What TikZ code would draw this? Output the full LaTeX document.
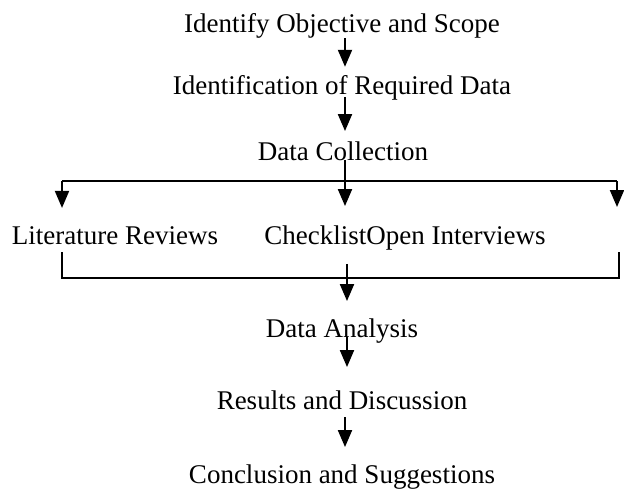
\documentclass[tikz,border=0pt]{standalone}
\usepackage{fontspec}
\setmainfont{Liberation Serif}
\usetikzlibrary{arrows.meta,calc}
\begin{document}
\begin{tikzpicture}[x=1pt,y=-1pt,
  lbl/.style={anchor=base,inner sep=0pt,font=\fontsize{27}{32}\selectfont},
  conn/.style={line width=2pt,draw=black},
  arr/.style={conn,-{Triangle[width=14pt,length=17pt]}}]
\path[fill=white,use as bounding box] (0,0) rectangle (624,488);
\node[lbl] (t1) at (342,32) {Identify Objective and Scope};
\node[lbl] (t2) at (342,94) {Identification of Required Data};
\node[lbl] (dc) at (343,160) {Data Collection};
\node[lbl] (lr) at (115,244) {Literature Reviews};
\node[lbl] (ci) at (405,244) {ChecklistOpen Interviews};
\node[lbl] (da) at (342,337) {Data Analysis};
\node[lbl] (rd) at (342,409) {Results and Discussion};
\node[lbl] (cs) at (342,483) {Conclusion and Suggestions};
\coordinate (ax) at (345,0);
\coordinate (bx) at (347,0);
\coordinate (jl) at (62,181);
\coordinate (jr) at (617,181);
\coordinate (rt) at (617,207);
\coordinate (bl) at (62,278);
\coordinate (br) at (619,278);
\draw[arr] (t1.south -| ax) -- ($(t2.north -| ax)+(0,-8)$);
\draw[arr] ($(t2.south -| ax)+(0,-3)$) -- ($(dc.north -| ax)+(0,-10)$);
\draw[conn] (jl) -- (jr);
\draw[arr] (dc.south -| ax) -- ($(ci.north -| ax)+(0,-19)$);
\draw[arr] (jl) -- ($(lr.north -| jl)+(0,-18)$);
\draw[arr] (jr) -- (rt);
\draw[conn] ($(lr.south -| bl)+(0,8)$) -- (bl) -- (br) -- ($(lr.south -| br)+(0,8)$);
\draw[arr] ($(ci.south -| bx)+(0,14)$) -- ($(da.north -| bx)+(0,-17)$);
\draw[arr] ($(da.south -| bx)+(0,-6)$) -- ($(rd.north -| bx)+(0,-23)$);
\draw[arr] ($(rd.south -| ax)+(0,8)$) -- ($(cs.north -| ax)+(0,-17)$);
\end{tikzpicture}
\end{document}
